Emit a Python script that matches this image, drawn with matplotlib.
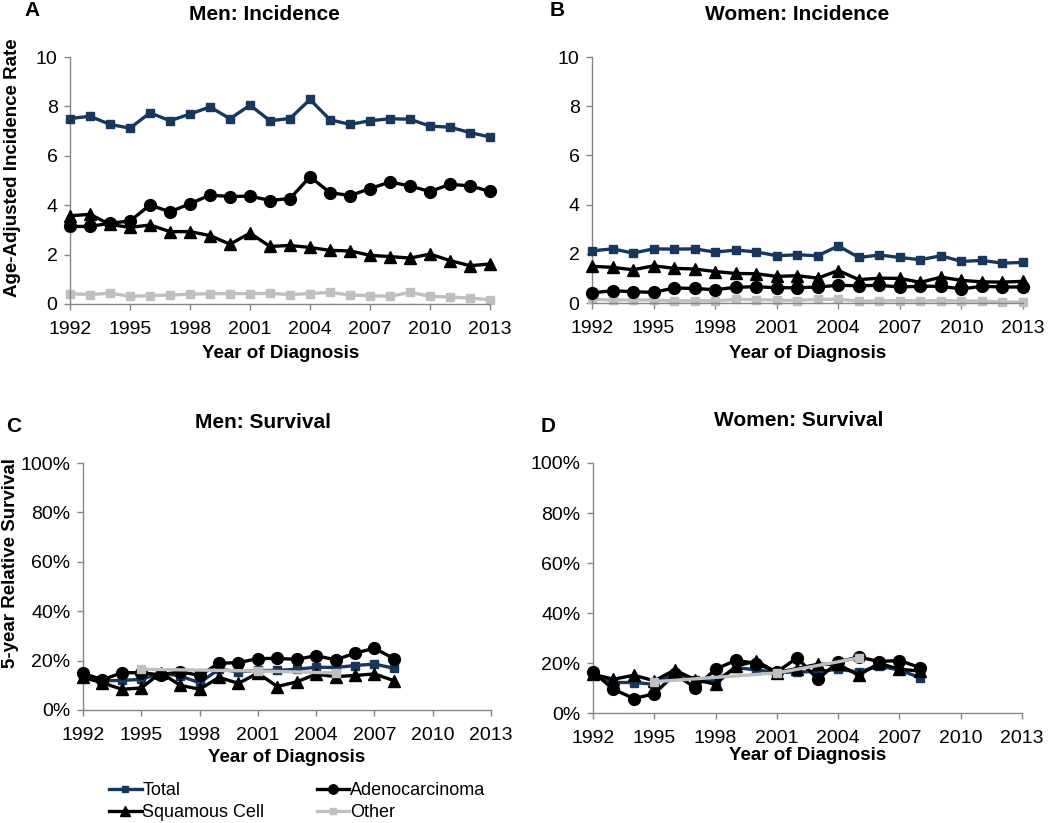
import matplotlib
matplotlib.use("Agg")
import matplotlib.pyplot as plt
from matplotlib.ticker import FuncFormatter, MultipleLocator
from matplotlib.lines import Line2D

plt.rcParams['font.family'] = ['Liberation Sans', 'DejaVu Sans']

years_inc = list(range(1992, 2014))
years_surv = list(range(1992, 2009))
years_other_surv = [1995, 2001, 2005]

men_inc_total = [7.51, 7.60, 7.27, 7.12, 7.74, 7.42, 7.69, 7.98, 7.50, 8.05, 7.42,
                 7.51, 8.28, 7.46, 7.27, 7.42, 7.50, 7.48, 7.20, 7.16, 6.94, 6.76]
men_inc_adeno = [3.14, 3.14, 3.27, 3.36, 4.01, 3.73, 4.06, 4.41, 4.35, 4.37, 4.19,
                 4.27, 5.15, 4.51, 4.39, 4.67, 4.94, 4.78, 4.55, 4.85, 4.78, 4.56]
men_inc_squam = [3.57, 3.63, 3.22, 3.10, 3.20, 2.93, 2.93, 2.77, 2.42, 2.87, 2.33,
                 2.37, 2.29, 2.17, 2.15, 1.97, 1.92, 1.86, 2.02, 1.76, 1.55, 1.62]
men_inc_other = [0.42, 0.38, 0.44, 0.31, 0.34, 0.36, 0.40, 0.42, 0.42, 0.42, 0.43,
                 0.38, 0.42, 0.47, 0.36, 0.34, 0.31, 0.47, 0.31, 0.28, 0.24, 0.17]

women_inc_total = [2.12, 2.20, 2.03, 2.20, 2.19, 2.20, 2.07, 2.15, 2.08, 1.92, 1.96,
                   1.92, 2.32, 1.85, 1.95, 1.85, 1.76, 1.92, 1.69, 1.73, 1.62, 1.65]
women_inc_adeno = [0.41, 0.50, 0.46, 0.43, 0.61, 0.59, 0.54, 0.64, 0.66, 0.62, 0.62,
                   0.65, 0.72, 0.70, 0.72, 0.65, 0.68, 0.68, 0.57, 0.68, 0.65, 0.65]
women_inc_squam = [1.49, 1.45, 1.35, 1.51, 1.41, 1.38, 1.28, 1.20, 1.19, 1.08, 1.11,
                   1.01, 1.32, 0.95, 1.01, 1.00, 0.84, 1.05, 0.92, 0.86, 0.85, 0.88]
women_inc_other = [0.15, 0.12, 0.12, 0.12, 0.08, 0.10, 0.08, 0.15, 0.13, 0.12, 0.10,
                   0.15, 0.15, 0.08, 0.08, 0.10, 0.08, 0.10, 0.08, 0.08, 0.04, 0.03]

men_surv_total = [14.0, 11.8, 12.0, 12.4, 14.9, 13.8, 11.0, 16.5, 15.5, 16.0, 16.0,
                  16.5, 17.3, 17.2, 18.0, 18.6, 16.9]
men_surv_adeno = [14.9, 12.2, 15.1, 15.1, 14.2, 15.5, 14.0, 18.9, 19.2, 20.8, 20.9,
                  20.5, 22.0, 20.3, 23.0, 25.0, 20.8]
men_surv_squam = [13.2, 11.0, 8.4, 8.9, 15.1, 10.0, 8.4, 13.2, 10.8, 14.9, 9.5,
                  11.4, 14.5, 13.5, 14.0, 14.6, 11.9]
men_surv_other = [16.5, 15.8, 15.0]

women_surv_total = [15.5, 12.2, 12.2, 11.5, 15.9, 13.3, 12.9, 18.2, 17.2, 16.2, 16.4,
                    16.6, 17.5, 16.4, 18.8, 17.2, 14.2]
women_surv_adeno = [16.4, 9.5, 5.8, 7.7, 15.5, 10.2, 17.5, 21.1, 19.8, 16.4, 22.1,
                    13.5, 20.4, 22.4, 20.6, 21.0, 18.2]
women_surv_squam = [15.5, 13.5, 15.1, 12.9, 17.2, 13.3, 11.5, 18.8, 20.8, 16.2, 17.8,
                    19.5, 19.5, 15.1, 19.9, 17.5, 16.8]
women_surv_other = [12.5, 16.0, 22.0]

series_labels = ['Total', 'Adenocarcinoma', 'Squamous Cell', 'Other']
xticks = list(range(1992, 2014, 3))

NAVY = '#17375E'
BLACK = '#000000'
GRAY = '#BFBFBF'
SPINE = '#868686'

styles = {
    'Total': dict(color=NAVY, marker='s', markersize=6),
    'Adenocarcinoma': dict(color=BLACK, marker='o', markersize=8.5),
    'Squamous Cell': dict(color=BLACK, marker='^', markersize=9),
    'Other': dict(color=GRAY, marker='s', markersize=6),
}

W, H = 1050, 823
fig = plt.figure(figsize=(W / 100, H / 100), dpi=100)


def add_ax(left, right, top, bottom):
    return fig.add_axes([left / W, 1 - bottom / H, (right - left) / W, (bottom - top) / H])


def style_ax(ax, ylim, ystep, pct):
    ax.set_xlim(1992, 2013)
    ax.set_ylim(*ylim)
    ax.set_xticks(xticks)
    ax.yaxis.set_major_locator(MultipleLocator(ystep))
    if pct:
        ax.yaxis.set_major_formatter(FuncFormatter(lambda v, p: f"{int(round(v))}%"))
    for s in ['top', 'right']:
        ax.spines[s].set_visible(False)
    for s in ['left', 'bottom']:
        ax.spines[s].set_color(SPINE)
        ax.spines[s].set_linewidth(1.0)
    ax.tick_params(axis='both', direction='out', length=4, width=1, color=SPINE,
                   labelsize=14, labelcolor='black')
    ax.tick_params(axis='x', pad=8)
    ax.tick_params(axis='y', pad=5)


def plot_series(ax, x, y, name, z):
    st = styles[name]
    ax.plot(x, y, color=st['color'], marker=st['marker'], markersize=st['markersize'],
            linewidth=2.4, markeredgecolor=st['color'], markerfacecolor=st['color'],
            clip_on=False, zorder=z, label=name)


axA = add_ax(70, 490, 57, 304)
axB = add_ax(592, 1023, 57, 303)
axC = add_ax(83, 491, 463, 710)
axD = add_ax(593, 1022, 463, 713)

for ax in (axA, axB):
    style_ax(ax, (0, 10), 2, False)
for ax in (axC, axD):
    style_ax(ax, (0, 100), 20, True)

plot_series(axA, years_inc, men_inc_other, 'Other', 2)
plot_series(axA, years_inc, men_inc_squam, 'Squamous Cell', 3)
plot_series(axA, years_inc, men_inc_adeno, 'Adenocarcinoma', 4)
plot_series(axA, years_inc, men_inc_total, 'Total', 5)

plot_series(axB, years_inc, women_inc_other, 'Other', 2)
plot_series(axB, years_inc, women_inc_squam, 'Squamous Cell', 3)
plot_series(axB, years_inc, women_inc_adeno, 'Adenocarcinoma', 4)
plot_series(axB, years_inc, women_inc_total, 'Total', 5)

plot_series(axC, years_surv, men_surv_total, 'Total', 3)
plot_series(axC, years_surv, men_surv_adeno, 'Adenocarcinoma', 4)
plot_series(axC, years_surv, men_surv_squam, 'Squamous Cell', 5)
plot_series(axC, years_other_surv, men_surv_other, 'Other', 6)

plot_series(axD, years_surv, women_surv_total, 'Total', 3)
plot_series(axD, years_surv, women_surv_adeno, 'Adenocarcinoma', 4)
plot_series(axD, years_surv, women_surv_squam, 'Squamous Cell', 5)
plot_series(axD, years_other_surv, women_surv_other, 'Other', 6)


def ftext(x, y, s, **kw):
    fig.text(x / W, 1 - y / H, s, **kw)


tkw = dict(fontsize=15, fontweight='bold', ha='center', va='center')
ftext(264, 15, 'Men: Incidence', **tkw)
ftext(797, 15, 'Women: Incidence', **tkw)
ftext(263, 422, 'Men: Survival', **tkw)
ftext(799, 421, 'Women: Survival', **tkw)

lkw = dict(fontsize=15, fontweight='bold', ha='center', va='center')
ftext(32, 10, 'A', **lkw)
ftext(557, 10, 'B', **lkw)
ftext(14, 426, 'C', **lkw)
ftext(548, 426, 'D', **lkw)

xkw = dict(fontsize=13.5, fontweight='bold', ha='center', va='center')
ftext(281, 353, 'Year of Diagnosis', **xkw)
ftext(808, 353, 'Year of Diagnosis', **xkw)
ftext(287, 758, 'Year of Diagnosis', **xkw)
ftext(808, 756, 'Year of Diagnosis', **xkw)

ykw = dict(fontsize=13.5, fontweight='bold', ha='center', va='center', rotation=90)
ftext(13, 168, 'Age-Adjusted Incidence Rate', **ykw)
ftext(11, 563, '5-year Relative Survival', **ykw)

handles = []
order = ['Total', 'Squamous Cell', 'Adenocarcinoma', 'Other']
for name in order:
    st = styles[name]
    handles.append(Line2D([], [], color=st['color'], marker=st['marker'],
                          markersize=st['markersize'] * 0.8, linewidth=2.4,
                          markerfacecolor=st['color'], markeredgecolor=st['color'],
                          label=name))
fig.legend(handles=handles, labels=order, ncol=2, frameon=False, fontsize=13,
           loc='upper left', bbox_to_anchor=(109 / W, 1 - 782 / H),
           borderpad=0, borderaxespad=0, handlelength=1.8, handletextpad=0.05,
           columnspacing=2.9, labelspacing=0.3)

fig.savefig('out.png', dpi=100)
